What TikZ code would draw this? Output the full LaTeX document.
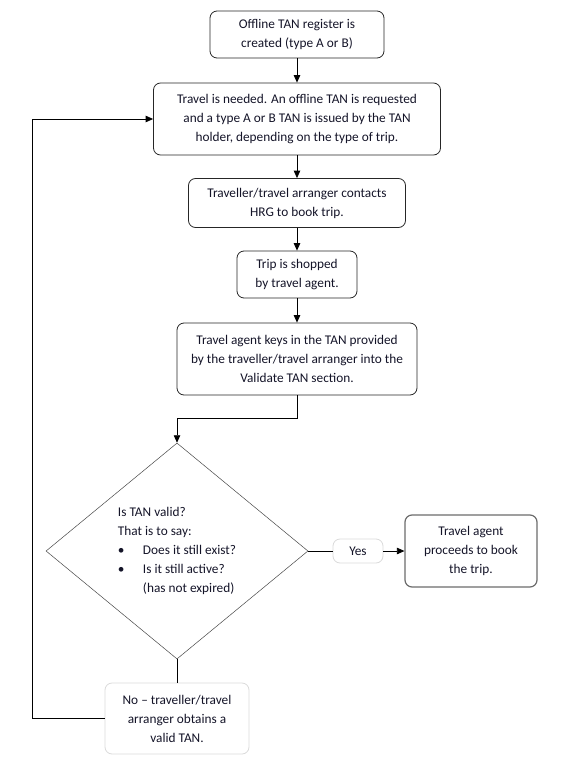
\documentclass[tikz,border=0pt]{standalone}
\usepackage{fontspec}
\setmainfont{Carlito}
\usetikzlibrary{shapes.geometric,arrows.meta}
\definecolor{boxline}{HTML}{262626}
\definecolor{greyline}{HTML}{6B6B6B}
\definecolor{paleline}{HTML}{DADADA}
\definecolor{textc}{HTML}{141428}
\newcommand{\flowfont}{\fontsize{13.3}{19}\selectfont}
\tikzstyle{stepbox} = [
    draw=boxline,
    line width=0.8pt,
    rectangle,
    rounded corners=7pt,
    align=center,
    inner sep=0pt,
    text=textc,
    font=\flowfont
    ]
\tikzstyle{palebox} = [
    stepbox,
    draw=paleline
    ]
\tikzstyle{endbox} = [
    stepbox,
    draw=greyline,
    line width=1.2pt
    ]
\tikzstyle{decision} = [
    draw=boxline!85,
    line width=0.5pt,
    diamond,
    inner sep=0pt,
    align=left,
    text=textc,
    font=\flowfont
    ]
\tikzstyle{flow} = [
    line width=0.8pt,
    -{Triangle[length=7.5pt,width=6.5pt]}
    ]

\begin{document}
\begin{tikzpicture}[x=1pt,y=-1pt]
\useasboundingbox (0,0) rectangle (565,771);

\node[stepbox, minimum width=174pt, minimum height=47pt] (register) at (297,34.5)
    {Offline TAN register is\\created (type A or B)};
\node[stepbox, minimum width=287pt, minimum height=72pt] (request) at (297,119)
    {Travel is needed. An offline TAN is requested\\and a type A or B TAN is issued by the TAN\\holder, depending on the type of trip.};
\node[stepbox, minimum width=217pt, minimum height=49pt] (contact) at (297,203)
    {Traveller/travel arranger contacts\\HRG to book trip.};
\node[stepbox, minimum width=120pt, minimum height=47pt] (shop) at (297,274.5)
    {Trip is shopped\\by travel agent.};
\node[stepbox, minimum width=240pt, minimum height=72pt] (keyin) at (297,359)
    {Travel agent keys in the TAN provided\\by the traveller/travel arranger into the\\Validate TAN section.};

\node[decision, minimum width=262pt, minimum height=216pt] (valid) at (177,551)
    {Is TAN valid?\\
     That is to say:\\
     \makebox[25pt][l]{\textbullet}Does it still exist?\\
     \makebox[25pt][l]{\textbullet}Is it still active?\\
     \hspace*{25pt}(has not expired)};

\node[palebox, minimum width=50pt, minimum height=24pt] (yes) at (358,551) {Yes};
\node[endbox, minimum width=132pt, minimum height=72pt] (book) at (471,551)
    {Travel agent\\proceeds to book\\the trip.};
\node[palebox, minimum width=144pt, minimum height=71pt] (no) at (177,718.5)
    {No -- traveller/travel\\arranger obtains a\\valid TAN.};

% main line
\draw[flow] (register) -- (request);
\draw[flow] (request) -- (contact);
\draw[flow] (contact) -- (shop);
\draw[flow] (shop) -- (keyin);
\draw[flow] (keyin.south) -- ++(0,23) -| (valid.north);

% branches
\draw[line width=0.8pt] (valid.east) -- (yes.west);
\draw[flow] (yes) -- (book);
\draw[line width=0.8pt] (valid.south) -- (no.north);
\draw[flow] (no.west) -- ++(-72,0) |- (request.west);
\end{tikzpicture}
\end{document}
